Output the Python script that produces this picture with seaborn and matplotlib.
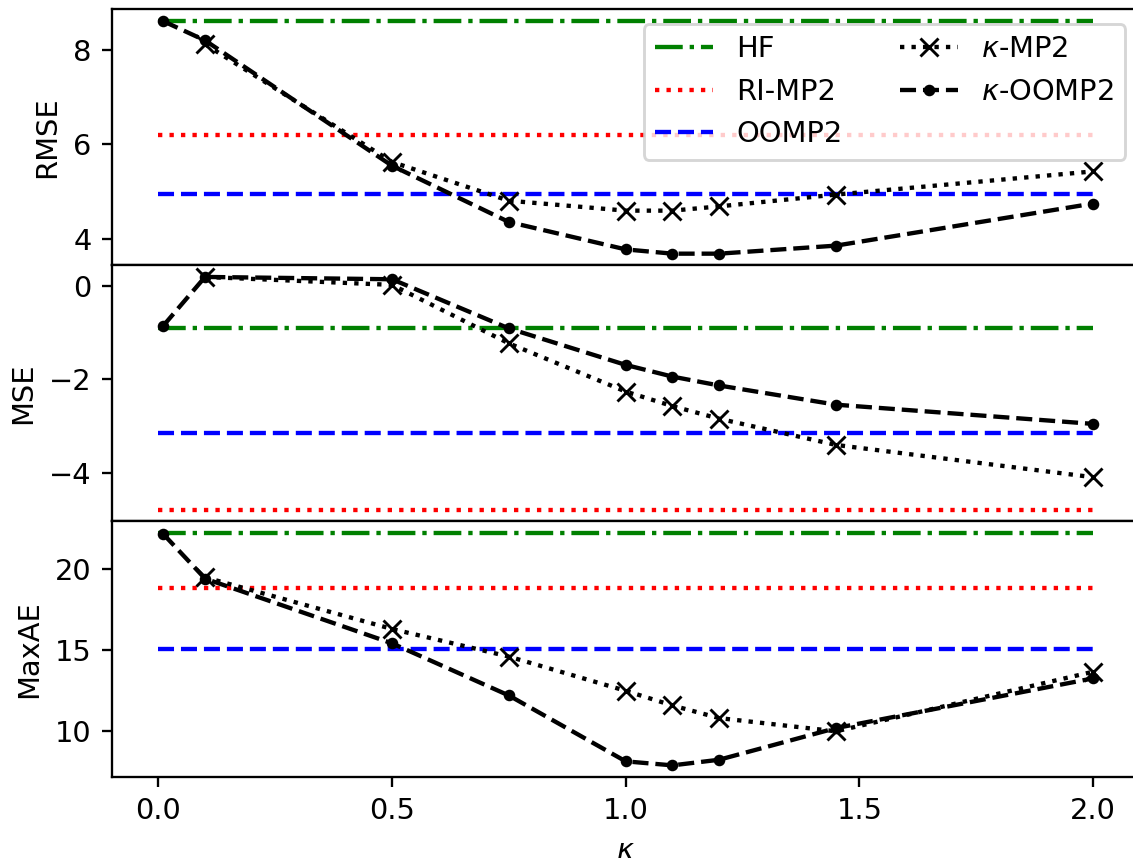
import numpy as np
import pandas as pd
import seaborn as sns
import matplotlib
matplotlib.use('Agg')
import matplotlib.pyplot as plt

# kappa grid
kappa_oomp2 = [0.01, 0.1, 0.5, 0.75, 1.0, 1.1, 1.2, 1.45, 2.0]
kappa_mp2 = [0.1, 0.5, 0.75, 1.0, 1.1, 1.2, 1.45, 2.0]
kappa_ref = [0.0, 2.0]

# reference methods (constant in kappa)
hf = {'RMSE': 8.61, 'MSE': -0.90, 'MaxAE': 22.26}
ri_mp2 = {'RMSE': 6.21, 'MSE': -4.78, 'MaxAE': 18.81}
oomp2 = {'RMSE': 4.95, 'MSE': -3.14, 'MaxAE': 15.06}

# kappa-MP2
mp2_rmse = [8.12, 5.63, 4.81, 4.60, 4.60, 4.69, 4.94, 5.43]
mp2_mse = [0.19, 0.02, -1.23, -2.26, -2.57, -2.84, -3.40, -4.09]
mp2_maxae = [19.50, 16.30, 14.59, 12.47, 11.56, 10.78, 9.96, 13.65]

# kappa-OOMP2
oo_rmse = [8.61, 8.20, 5.55, 4.36, 3.78, 3.69, 3.69, 3.86, 4.75]
oo_mse = [-0.86, 0.19, 0.14, -0.91, -1.69, -1.94, -2.13, -2.54, -2.95]
oo_maxae = [22.20, 19.42, 15.41, 12.18, 8.10, 7.85, 8.20, 10.16, 13.24]

metrics = ['RMSE', 'MSE', 'MaxAE']
mp2_vals = {'RMSE': mp2_rmse, 'MSE': mp2_mse, 'MaxAE': mp2_maxae}
oo_vals = {'RMSE': oo_rmse, 'MSE': oo_mse, 'MaxAE': oo_maxae}

fig, axes = plt.subplots(3, 1, sharex=True, figsize=(1133 / 208, 858 / 208), dpi=208)
fig.subplots_adjust(left=0.0985, right=1.006, bottom=0.0944, top=0.989, hspace=0)

for ax, m in zip(axes, metrics):
    sns.lineplot(x=kappa_ref, y=[hf[m]] * 2, ax=ax, color='g', linestyle='-.', label='HF')
    sns.lineplot(x=kappa_ref, y=[ri_mp2[m]] * 2, ax=ax, color='r', linestyle=':', label='RI-MP2')
    sns.lineplot(x=kappa_ref, y=[oomp2[m]] * 2, ax=ax, color='b', linestyle='--', label='OOMP2')
    sns.lineplot(x=kappa_mp2, y=mp2_vals[m], ax=ax, color='k', linestyle=':', marker='x',
                 markersize=6, markeredgecolor='k', markeredgewidth=1.0, label=r'$\kappa$-MP2')
    sns.lineplot(x=kappa_oomp2, y=oo_vals[m], ax=ax, color='k', linestyle='--', marker='.',
                 markersize=6, markeredgecolor='k', markeredgewidth=1.0, label=r'$\kappa$-OOMP2')
    ax.set_ylabel(m)
    if ax is not axes[0]:
        ax.get_legend().remove()

axes[0].legend(loc='upper right', ncol=2)
for ax in axes[:2]:
    ax.tick_params(axis='x', bottom=False)
axes[2].set_xlabel(r'$\kappa$')
axes[2].set_xticks([0.0, 0.5, 1.0, 1.5, 2.0])

fig.savefig('out.png', dpi=208)
